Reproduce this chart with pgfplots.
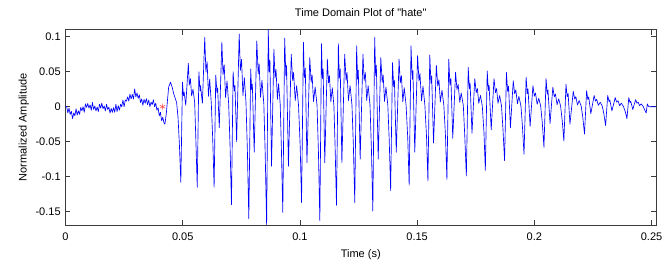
\documentclass[border=0pt]{standalone}
\usepackage{fontspec}
\setmainfont{Liberation Sans}
\usepackage{pgfplots}
\pgfplotsset{compat=1.18}
\definecolor{axgray}{RGB}{60,60,60}
\definecolor{starred}{RGB}{255,60,60}
\begin{document}
\fontsize{11bp}{13bp}\selectfont
\begin{tikzpicture}
\begin{axis}[
  name=ax,
  at={(0,0)}, anchor=south west,
  scale only axis,
  width=590.5bp, height=195.3bp,
  xmin=0, xmax=0.2519,
  ymin=-0.169, ymax=0.110,
  xtick={0,0.05,0.1,0.15,0.2,0.25},
  xticklabels={0,0.05,0.1,0.15,0.2,0.25},
  ytick={-0.15,-0.1,-0.05,0,0.05,0.1},
  yticklabels={-0.15,-0.1,-0.05,0,0.05,0.1},
  scaled ticks=false,
  tick align=inside,
  tick pos=both,
  major tick length=5bp,
  axis line style={axgray, line width=0.6bp},
  every tick/.style={axgray, line width=0.6bp},
  tick label style={font=\fontsize{11bp}{13bp}\selectfont, text=black},
  xticklabel shift=4bp,
  yticklabel shift=1bp,
  label style={font=\fontsize{11bp}{13bp}\selectfont},
  title style={font=\fontsize{11bp}{13bp}\selectfont, yshift=3bp},
  title={Time Domain Plot of \textquotedbl hate\textquotedbl},
  xlabel={Time (s)},
  ylabel={Normalized Amplitude},
  xlabel style={yshift=-1bp},
  ylabel style={yshift=-1bp},
  clip=true,
]
\addplot[blue, line width=0.65bp, line join=round] coordinates {
(0.0000,0) (0.0005,0.0005) (0.0010,-0.009) (0.0015,-0.002) (0.0020,-0.011) (0.0025,-0.0065) (0.0030,-0.017) (0.0035,-0.009) (0.0040,-0.013) (0.0045,-0.003)
(0.0050,-0.012) (0.0055,-0.006) (0.0060,-0.011) (0.0065,-0.001) (0.0070,-0.006) (0.0075,0) (0.0080,-0.008) (0.0085,0.004) (0.0090,-0.001) (0.0095,0.0045)
(0.0100,-0.002) (0.0105,0.0025) (0.0110,-0.005) (0.0115,0.006) (0.0120,-0.004) (0.0125,0.001) (0.0130,-0.006) (0.0135,-0.0005) (0.0140,-0.007) (0.0145,0.0035)
(0.0150,-0.002) (0.0155,0.005) (0.0160,-0.003) (0.0165,0.001) (0.0170,-0.006) (0.0175,0.0035) (0.0180,-0.004) (0.0185,-0.0005) (0.0190,-0.009) (0.0195,-0.0025)
(0.0200,-0.008) (0.0205,-0.0015) (0.0210,-0.008) (0.0215,0.0035) (0.0220,-0.007) (0.0225,0.0015) (0.0230,-0.005) (0.0235,0.0035) (0.0240,0) (0.0245,0.0095)
(0.0250,0) (0.0255,0.0095) (0.0260,0.008) (0.0265,0.014) (0.0270,0.008) (0.0275,0.018) (0.0280,0.011) (0.0285,0.0175) (0.0290,0.011) (0.0295,0.0255)
(0.0300,0.014) (0.0305,0.0195) (0.0310,0.012) (0.0315,0.017) (0.0320,0.006) (0.0325,0.011) (0.0330,0.002) (0.0335,0.0105) (0.0340,0.005) (0.0345,0.0115)
(0.0350,0.003) (0.0355,0.0095) (0.0360,0) (0.0365,0.0065) (0.0370,0.003) (0.0375,0.010) (0.0380,0) (0.0385,0.005) (0.0390,-0.005) (0.0395,-0.0015)
(0.0400,-0.013) (0.0405,-0.008) (0.0410,-0.020) (0.0415,-0.015) (0.0420,-0.023)
(0.0424,-0.025) (0.0430,-0.010) (0.0440,0.028) (0.0448,0.035) (0.0455,0.028) (0.0462,0.018) (0.0474,0.006) (0.0480,-0.015) (0.0486,-0.055)
(0.0492,-0.108) (0.0499,0.035) (0.0503,0.0158) (0.0506,0.021) (0.0513,0.002) (0.0524,0.062) (0.0528,0.031) (0.0533,0.040) (0.0538,0.0155) (0.0544,0.0248) (0.0551,0.0062) (0.0556,-0.046)
(0.0562,-0.115) (0.0569,0.05) (0.0574,0.0225) (0.0576,0.03) (0.0584,0.005) (0.0594,0.099) (0.0599,0.0495) (0.0604,0.0644) (0.0610,0.0148) (0.0615,0.0396) (0.0622,0.0049) (0.0628,-0.046)
(0.0634,-0.115) (0.0641,0.045) (0.0646,0.0203) (0.0649,0.027) (0.0656,-0.03) (0.0667,0.092) (0.0672,0.046) (0.0677,0.0598) (0.0683,0.013) (0.0689,0.0368) (0.0696,0.0042) (0.0702,-0.056)
(0.0708,-0.14) (0.0715,0.05) (0.0720,0.0225) (0.0723,0.03) (0.0730,-0.05) (0.0741,0.104) (0.0746,0.052) (0.0751,0.0676) (0.0757,0.016) (0.0763,0.0416) (0.0770,0.0054) (0.0776,-0.064)
(0.0782,-0.16) (0.0790,0.054) (0.0794,0.0243) (0.0797,0.0324) (0.0805,-0.065) (0.0816,0.094) (0.0822,0.047) (0.0826,0.0611) (0.0832,0.0135) (0.0838,0.0376) (0.0846,0.0044) (0.0852,-0.068)
(0.0858,-0.17) (0.0865,0.11) (0.0869,0.0495) (0.0872,0.066) (0.0879,-0.085) (0.0889,0.082) (0.0894,0.041) (0.0898,0.0533) (0.0904,0.0105) (0.0909,0.0328) (0.0916,0.0032) (0.0921,-0.06)
(0.0927,-0.151) (0.0935,0.098) (0.0940,0.0441) (0.0943,0.0588) (0.0951,-0.085) (0.0963,0.075) (0.0969,0.0375) (0.0973,0.0488) (0.0980,0.0088) (0.0986,0.03) (0.0994,0.0025) (0.1001,-0.055)
(0.1007,-0.137) (0.1015,0.092) (0.1019,0.0414) (0.1023,0.0552) (0.1030,-0.08) (0.1042,0.07) (0.1048,0.035) (0.1052,0.0455) (0.1058,0.0075) (0.1065,0.028) (0.1073,0.002) (0.1079,-0.065)
(0.1085,-0.163) (0.1092,0.09) (0.1096,0.0405) (0.1099,0.054) (0.1106,-0.08) (0.1117,0.068) (0.1122,0.034) (0.1126,0.0442) (0.1132,0.007) (0.1138,0.0272) (0.1145,0.0018) (0.1150,-0.056)
(0.1156,-0.141) (0.1164,0.09) (0.1168,0.0405) (0.1172,0.054) (0.1179,-0.08) (0.1191,0.075) (0.1197,0.0375) (0.1201,0.0488) (0.1207,0.0088) (0.1214,0.03) (0.1222,0.0025) (0.1228,-0.055)
(0.1234,-0.137) (0.1242,0.087) (0.1246,0.0392) (0.1249,0.0522) (0.1257,-0.075) (0.1269,0.075) (0.1274,0.0375) (0.1279,0.0488) (0.1285,0.0088) (0.1291,0.03) (0.1299,0.0025) (0.1305,-0.06)
(0.1311,-0.149) (0.1319,0.099) (0.1323,0.0446) (0.1326,0.0594) (0.1334,-0.075) (0.1345,0.07) (0.1351,0.035) (0.1355,0.0455) (0.1361,0.0075) (0.1367,0.028) (0.1375,0.002) (0.1381,-0.048)
(0.1387,-0.12) (0.1395,0.063) (0.1400,0.0284) (0.1403,0.0378) (0.1411,-0.065) (0.1423,0.068) (0.1428,0.034) (0.1433,0.0442) (0.1439,0.007) (0.1445,0.0272) (0.1453,0.0018) (0.1460,-0.045)
(0.1466,-0.112) (0.1474,0.087) (0.1479,0.0392) (0.1482,0.0522) (0.1490,-0.065) (0.1502,0.073) (0.1508,0.0365) (0.1512,0.0475) (0.1519,0.0083) (0.1525,0.0292) (0.1533,0.0023) (0.1540,-0.042)
(0.1546,-0.106) (0.1554,0.074) (0.1559,0.0333) (0.1562,0.0444) (0.1570,-0.052) (0.1582,0.059) (0.1588,0.0295) (0.1593,0.0384) (0.1599,0.0068) (0.1606,0.0236) (0.1614,0.0019) (0.1621,-0.042)
(0.1627,-0.104) (0.1635,0.068) (0.1640,0.0306) (0.1644,0.0408) (0.1652,-0.045) (0.1664,0.049) (0.1670,0.0245) (0.1675,0.0319) (0.1682,0.0063) (0.1688,0.0196) (0.1697,0.0019) (0.1703,-0.04)
(0.1710,-0.099) (0.1718,0.056) (0.1723,0.0252) (0.1726,0.0336) (0.1734,-0.038) (0.1746,0.04) (0.1752,0.02) (0.1757,0.026) (0.1763,0.005) (0.1770,0.016) (0.1778,0.001) (0.1785,-0.036)
(0.1791,-0.091) (0.1799,0.051) (0.1804,0.023) (0.1807,0.0306) (0.1816,-0.033) (0.1828,0.04) (0.1834,0.02) (0.1839,0.026) (0.1845,0.005) (0.1852,0.016) (0.1860,0.001) (0.1866,-0.031)
(0.1873,-0.077) (0.1881,0.049) (0.1886,0.022) (0.1890,0.0294) (0.1898,-0.03) (0.1910,0.037) (0.1916,0.0185) (0.1921,0.024) (0.1928,0.0043) (0.1934,0.0148) (0.1943,0.0007) (0.1949,-0.027)
(0.1956,-0.068) (0.1965,0.042) (0.1970,0.0189) (0.1973,0.0252) (0.1982,-0.028) (0.1994,0.03) (0.2000,0.015) (0.2005,0.0195) (0.2012,0.0035) (0.2019,0.012) (0.2027,0.001) (0.2034,-0.023)
(0.2041,-0.058) (0.2050,0.04) (0.2055,0.018) (0.2058,0.024) (0.2067,-0.024) (0.2079,0.028) (0.2085,0.014) (0.2090,0.0182) (0.2097,0.003) (0.2104,0.0112) (0.2112,0.0008) (0.2119,-0.02)
(0.2126,-0.049) (0.2135,0.032) (0.2140,0.0144) (0.2144,0.0192) (0.2152,-0.025) (0.2166,0.022) (0.2172,0.011) (0.2177,0.0143) (0.2184,0.0025) (0.2191,0.0088) (0.2200,0.0007) (0.2207,-0.016)
(0.2214,-0.039) (0.2223,0.023) (0.2228,0.0104) (0.2232,0.0138) (0.2241,-0.01) (0.2255,0.016) (0.2261,0.008) (0.2266,0.0104) (0.2273,0.002) (0.2281,0.0064) (0.2290,0.0006) (0.2297,-0.011)
(0.2304,-0.027) (0.2313,0.016) (0.2319,0.0072) (0.2322,0.0096) (0.2331,-0.006) (0.2345,0.013) (0.2351,0.0065) (0.2357,0.0085) (0.2364,0.0013) (0.2371,0.0052) (0.2380,0.0003) (0.2388,-0.007)
(0.2395,-0.017) (0.2403,0.013) (0.2408,0.0059) (0.2411,0.0078) (0.2420,-0.004) (0.2432,0.01) (0.2438,0.005) (0.2443,0.0065) (0.2449,0.0015) (0.2456,0.004) (0.2464,0.0005) (0.2470,-0.004)
(0.2477,-0.009) (0.2482,0.004) (0.2486,0.001) (0.2490,0) (0.2519,0)
};
\addplot[only marks, mark=asterisk, mark size=3bp, color=starred, mark options={line width=0.5bp}] coordinates {(0.0414,0)};
\end{axis}
\pgfresetboundingbox
\path[use as bounding box] ([xshift=-65.5bp,yshift=-45bp]ax.south west) rectangle ([xshift=9bp,yshift=29.7bp]ax.north east);
\end{tikzpicture}
\end{document}
